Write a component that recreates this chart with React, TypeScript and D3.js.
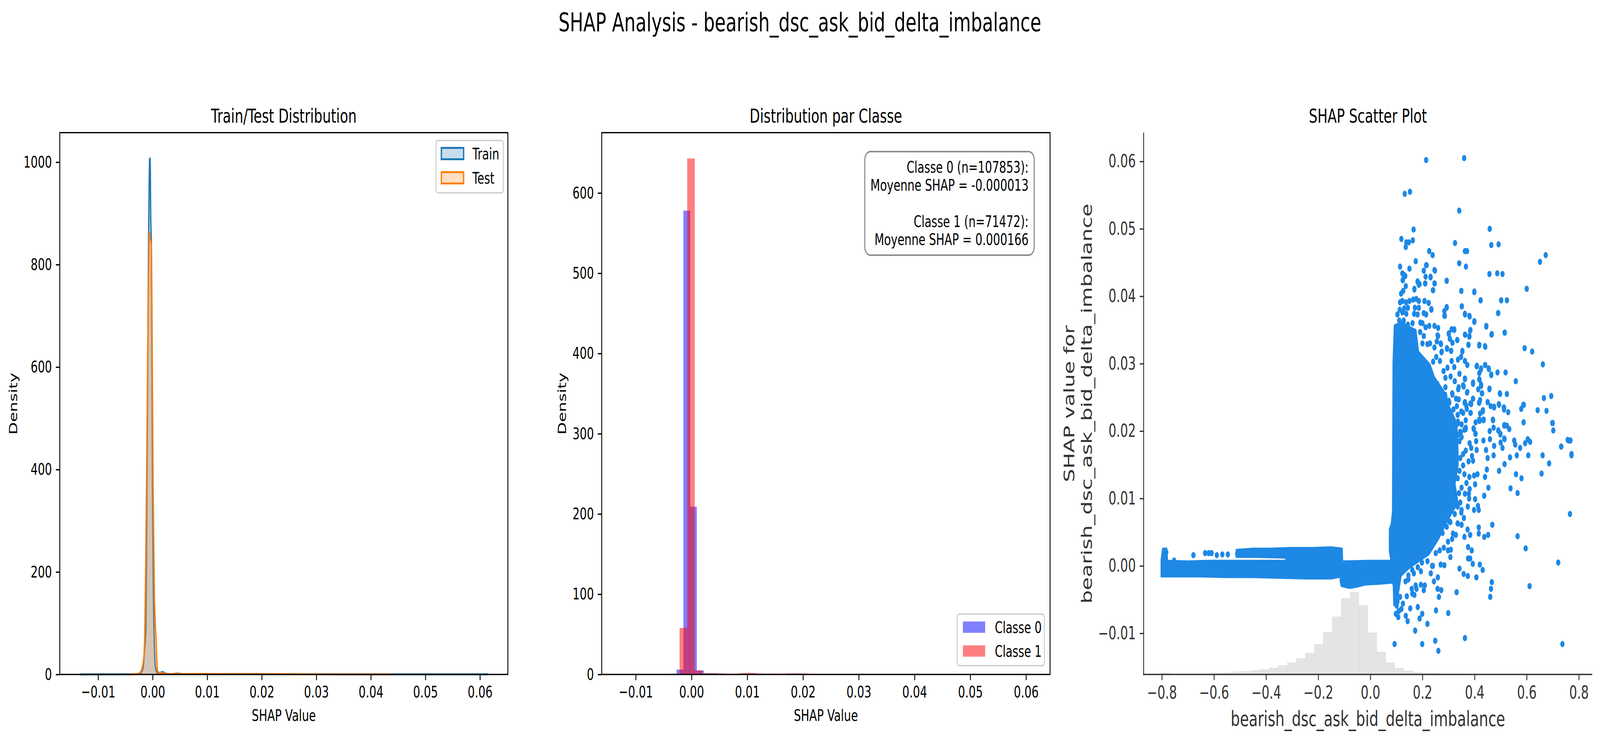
import React, { useEffect, useRef } from 'react';
import * as d3 from 'd3';

const W = 5967;
const H = 1904;
const FONT = '"DejaVu Sans", sans-serif';

// ---- Panel 1: KDE of SHAP values, [shap value, density]
const trainKde: [number, number][] = [
  [-0.0133, 0], [-0.008, 0.2], [-0.004, 0.3], [-0.0029, 0.5], [-0.0022, 3], [-0.0019, 8],
  [-0.00167, 21], [-0.00151, 47], [-0.00126, 87], [-0.0011, 299], [-0.00093, 564],
  [-0.00077, 828], [-0.00064, 961], [-0.00055, 1007], [-0.00047, 1007], [-0.00036, 894],
  [-0.00024, 835], [-0.00014, 630], [-0.00003, 365], [0.00013, 160], [0.0003, 60],
  [0.00051, 14], [0.0008, 4], [0.00103, 3], [0.0014, 3], [0.00169, 5], [0.002, 4],
  [0.0025, 1.5], [0.0035, 0.8], [0.0045, 2], [0.0055, 1], [0.007, 0.8], [0.0095, 1.2],
  [0.012, 0.8], [0.0175, 1.0], [0.022, 0.6], [0.03, 0.3], [0.04, 0.2], [0.05, 0.2], [0.0615, 0.1],
];
const testKde: [number, number][] = [
  [-0.0045, 0], [-0.0032, 0.3], [-0.00274, 1], [-0.0022, 5], [-0.00192, 14], [-0.00162, 34],
  [-0.00143, 94], [-0.00126, 233], [-0.00102, 497], [-0.00085, 696], [-0.00069, 828],
  [-0.00061, 863], [-0.00044, 851], [-0.00024, 835], [-0.00008, 630], [0.00008, 365],
  [0.0003, 167], [0.00063, 67], [0.00087, 8], [0.0012, 3], [0.0016, 3], [0.0022, 1.5],
  [0.003, 0.8], [0.0045, 1.2], [0.006, 0.8], [0.0095, 1.0], [0.013, 0.7], [0.018, 0.8],
  [0.025, 0.5], [0.035, 0.2], [0.0437, 0.1],
];

// ---- Panel 2: density histograms per class
const class0BinWidth = 0.00122;
const class0BinLeft = [-0.00511, -0.0039, -0.00268, -0.00146, -0.00027, 0.00098, 0.00216, 0.00337,
  0.00458, 0.0058, 0.00702, 0.00824, 0.00946, 0.01068, 0.0119, 0.01312, 0.01434, 0.01556,
  0.01678, 0.018, 0.01922, 0.02044, 0.02166];
const class0Density = [0.3, 0.6, 6, 578, 209, 5, 1.5, 1.2, 1.0, 0.6, 0.5, 0.7, 1.0, 0.8, 0.6,
  0.5, 0.7, 0.8, 0.8, 0.6, 0.4, 0.3, 0.2];
const class1BinWidth = 0.00136;
const class1BinLeft = [-0.0035, -0.00214, -0.000775, 0.000585, 0.00195, 0.00331, 0.00467, 0.00603,
  0.00739, 0.00875, 0.01011, 0.01147, 0.01283, 0.01419, 0.01555, 0.01691, 0.01827, 0.01963, 0.02099];
const class1Density = [0.8, 58, 643, 5, 1.2, 1.5, 1.2, 0.8, 1.0, 1.8, 2.0, 1.2, 1.0, 1.1, 0.9,
  1.3, 1.4, 1.2, 0.8];
const classLabels = ['Classe 0', 'Classe 1'];
const classNote = [
  'Classe 0 (n=107853):', 'Moyenne SHAP = -0.000013', '',
  'Classe 1 (n=71472):', 'Moyenne SHAP = 0.000166',
];

// ---- Panel 3: feature histogram (share of samples per bin, %), 50 bins over x-limits
const shapHistShare = [0, 0, 0.32, 0.12, 0.12, 0.12, 0.15, 0.2, 0.28, 0.38, 0.56, 0.64, 0.82, 0.95,
  1.25, 1.7, 2.2, 3.0, 4.0, 5.6, 7.8, 10.7, 14.1, 15.2, 12.8, 7.75, 4.2, 2.2, 1.2, 0.7, 0.42, 0.3,
  0.22, 0.16, 0.12, 0.1, 0.08, 0.06, 0.05, 0.04, 0.03, 0.03, 0.02, 0.02, 0.01, 0.01, 0.01, 0.01, 0, 0];

// dense regions of the scatter (outer outline, [feature value, shap value])
const coreRegion: [number, number][] = [
  [0.092, 0.0357], [0.12, 0.0362], [0.15, 0.0355], [0.175, 0.035], [0.185, 0.0318], [0.229, 0.0299],
  [0.246, 0.028], [0.281, 0.026], [0.298, 0.0241], [0.332, 0.0212], [0.336, 0.0175], [0.337, 0.015],
  [0.325, 0.0122], [0.336, 0.0094], [0.295, 0.0066], [0.262, 0.004], [0.225, 0.0017], [0.15, -0.0003],
  [0.118, -0.0015], [0.108, -0.004], [0.1, -0.006], [0.09, -0.0058], [0.088, -0.003], [0.083, -0.002],
  [0.08, 0.0005], [0.073, 0.0022], [0.073, 0.0055], [0.08, 0.0062], [0.085, 0.008], [0.087, 0.03],
];
const bandLeft: [number, number][] = [
  [-0.803, 0.0009], [-0.797, 0.0026], [-0.781, 0.0026], [-0.778, 0.0008], [-0.7, 0.0007],
  [-0.62, 0.0008], [-0.55, 0.0008], [-0.45, 0.0008], [-0.35, 0.0008], [-0.25, 0.0008],
  [-0.15, 0.0008], [-0.108, 0.0008], [-0.108, -0.0016], [-0.15, -0.0019], [-0.25, -0.0019],
  [-0.35, -0.0018], [-0.45, -0.0017], [-0.55, -0.0017], [-0.65, -0.0016], [-0.75, -0.0016],
  [-0.803, -0.0016],
];
const bandUpper: [number, number][] = [
  [-0.515, 0.0024], [-0.45, 0.0026], [-0.38, 0.0026], [-0.3, 0.0027], [-0.22, 0.0027],
  [-0.15, 0.0028], [-0.108, 0.0026], [-0.106, 0.0005], [-0.3, 0.0005], [-0.33, 0.0012],
  [-0.45, 0.0013], [-0.515, 0.0013],
];
const bandMid: [number, number][] = [
  [-0.114, 0.0007], [0.0, 0.0008], [0.085, 0.0008], [0.088, -0.0025], [0.03, -0.0027],
  [-0.02, -0.0028], [-0.05, -0.0031], [-0.08, -0.0033], [-0.112, -0.003], [-0.116, -0.0022],
];

// individual points outside or on the rim of the dense regions
const scatterPoints: [number, number][] = [
  [0.214, 0.0602], [0.36, 0.0605], [0.132, 0.0552], [0.152, 0.0555], [0.341, 0.0527], [0.166, 0.0499],
  [0.458, 0.05], [0.119, 0.0485], [0.138, 0.048], [0.148, 0.048], [0.163, 0.0483], [0.136, 0.0473],
  [0.325, 0.0479], [0.464, 0.0476], [0.492, 0.0477], [0.363, 0.0467], [0.371, 0.0467], [0.226, 0.0467],
  [0.239, 0.0461], [0.673, 0.0461], [0.651, 0.0451], [0.341, 0.0449], [0.367, 0.0444], [0.174, 0.0452],
  [0.114, 0.0444], [0.15, 0.0441], [0.214, 0.0446], [0.205, 0.0438], [0.248, 0.0438], [0.125, 0.0433],
  [0.134, 0.043], [0.125, 0.0424], [0.212, 0.0429], [0.231, 0.0428], [0.457, 0.0433], [0.487, 0.0434],
  [0.507, 0.0433], [0.182, 0.0421], [0.189, 0.0418], [0.211, 0.0419], [0.247, 0.0419], [0.293, 0.0423],
  [0.136, 0.0415], [0.169, 0.041], [0.241, 0.0409], [0.349, 0.0408], [0.399, 0.0406], [0.6, 0.0411],
  [0.423, 0.0394], [0.502, 0.0394], [0.524, 0.0394], [0.208, 0.0393], [0.224, 0.039], [0.351, 0.0385],
  [0.293, 0.0383], [0.234, 0.038], [0.284, 0.0371], [0.363, 0.0373], [0.381, 0.037], [0.491, 0.0375],
  [0.399, 0.0362], [0.445, 0.0355], [0.515, 0.0346], [0.465, 0.0343], [0.383, 0.0349], [0.364, 0.0343],
  [0.38, 0.034], [0.376, 0.0328], [0.418, 0.0327], [0.441, 0.0325], [0.592, 0.0323], [0.621, 0.0318],
  [0.662, 0.0299], [0.353, 0.0318], [0.273, 0.0317], [0.31, 0.0319], [0.294, 0.0322], [0.271, 0.0329],
  [0.333, 0.0335], [0.26, 0.0341], [0.301, 0.0344], [0.322, 0.035], [0.441, 0.0298], [0.455, 0.0292],
  [0.464, 0.0283], [0.488, 0.0287], [0.519, 0.0287], [0.558, 0.0274], [0.408, 0.0296], [0.424, 0.0291],
  [0.419, 0.0276], [0.425, 0.0267], [0.394, 0.027], [0.363, 0.0277], [0.371, 0.0257], [0.457, 0.0262],
  [0.429, 0.0256], [0.498, 0.0255], [0.524, 0.0255], [0.694, 0.0252], [0.666, 0.0249], [0.587, 0.0239],
  [0.579, 0.0233], [0.642, 0.0231], [0.676, 0.023], [0.394, 0.0248], [0.421, 0.0246], [0.417, 0.0242],
  [0.45, 0.0243], [0.462, 0.0237], [0.475, 0.0235], [0.494, 0.0239], [0.513, 0.0235], [0.513, 0.0232],
  [0.529, 0.0228], [0.431, 0.0229], [0.421, 0.0226], [0.434, 0.0216], [0.419, 0.0215], [0.471, 0.0216],
  [0.588, 0.0213], [0.698, 0.0212], [0.702, 0.0201], [0.514, 0.0208], [0.524, 0.0208], [0.533, 0.0203],
  [0.491, 0.0201], [0.499, 0.0195], [0.473, 0.0205], [0.458, 0.02], [0.515, 0.0188], [0.552, 0.0186],
  [0.761, 0.0186], [0.768, 0.0186], [0.613, 0.0184], [0.396, 0.0204], [0.404, 0.0196], [0.366, 0.0205],
  [0.361, 0.0202], [0.384, 0.0227], [0.368, 0.0238], [0.387, 0.024], [0.347, 0.0198], [0.335, 0.0211],
  [0.362, 0.0242], [0.337, 0.0262], [0.358, 0.0266],
  [0.732, 0.0177], [0.772, 0.0164], [0.661, 0.0164], [0.686, 0.0152], [0.657, 0.0137], [0.606, 0.0164],
  [0.594, 0.0182], [0.575, 0.0175], [0.556, 0.018], [0.562, 0.0164], [0.536, 0.0161],
  [0.515, 0.0151], [0.494, 0.0141], [0.559, 0.0136], [0.58, 0.013], [0.538, 0.0115], [0.565, 0.0108],
  [0.766, 0.0077], [0.468, 0.0061], [0.565, 0.0044], [0.596, 0.0026], [0.721, 0.0005], [0.611, -0.003],
  [0.737, -0.0116], [0.466, -0.0024], [0.463, -0.0034], [0.46, -0.0046], [0.416, 0.0057], [0.416, 0.0048],
  [0.437, 0.0043], [0.452, 0.0046], [0.407, -0.0017], [0.42, 0.0002], [0.431, -0.0006], [0.374, -0.0015],
  [0.358, -0.0012], [0.393, 0.0003], [0.375, 0.0011], [0.383, 0.0011], [0.389, 0.0023], [0.375, 0.0028],
  [0.342, -0.0004], [0.361, 0.0043], [0.383, 0.0046], [0.331, -0.0039], [0.363, -0.0107], [0.261, -0.0126],
  [0.249, -0.0111], [0.199, -0.0116], [0.093, -0.0116], [0.219, -0.0086], [0.172, -0.0096], [0.299, -0.007],
  [0.252, -0.0066], [0.199, -0.0071], [0.189, -0.0078], [0.182, -0.0061], [0.153, -0.0063], [0.143, -0.0082],
  [0.136, -0.0074], [0.107, -0.0076], [0.258, -0.0034], [0.272, -0.0036], [0.263, -0.0046], [0.244, -0.0023],
  [0.259, -0.0017], [0.232, -0.0011], [0.27, 0.0002], [0.284, 0.0001], [0.307, 0.0013], [0.298, 0.0023],
  [0.309, 0.0024], [0.237, 0.0], [0.209, -0.0029], [0.194, -0.0028], [0.174, -0.0029], [0.205, -0.0036],
  [0.167, -0.0011], [0.194, -0.0008], [0.328, 0.0046], [0.317, 0.0048], [0.307, 0.0065], [0.335, 0.0063],
  [0.35, 0.0061], [0.373, 0.0054], [0.359, 0.0071], [0.349, 0.0079], [0.374, 0.0088], [0.398, 0.0083],
  [0.416, 0.0083], [0.413, 0.0089], [0.402, 0.0099], [0.437, 0.0104], [0.379, 0.01], [0.378, 0.0107],
  [0.363, 0.0107], [0.381, 0.0114], [0.453, 0.0116], [0.402, 0.0121], [0.369, 0.0123], [0.361, 0.0136],
  [0.38, 0.0132], [0.44, 0.0132], [0.447, 0.0143], [0.411, 0.0136], [0.398, 0.0134], [0.45, 0.016],
  [0.444, 0.0172], [0.473, 0.0164], [0.475, 0.0178], [0.459, 0.0188], [0.434, 0.0186], [0.5, 0.0183],
  [0.507, 0.0175], [0.514, 0.0189], [0.491, 0.0201], [0.499, 0.0196], [0.47, 0.0217], [0.434, 0.0217],
  [0.419, 0.0217], [0.406, 0.0185], [0.408, 0.0172], [0.39, 0.0163], [0.394, 0.0156], [0.387, 0.0175],
  [0.381, 0.0182], [0.403, 0.0196], [0.397, 0.0203], [0.366, 0.0203], [0.335, 0.0212], [0.345, 0.0199],
  [0.098, -0.0039], [0.104, -0.0053], [0.101, -0.0059], [0.098, -0.0071], [0.109, -0.0067], [0.119, -0.0064],
  [0.125, -0.0056], [0.114, -0.0046], [0.14, -0.0045], [0.161, -0.0041], [0.146, -0.002], [0.159, -0.0034],
  [0.169, -0.0043], [0.177, -0.0034], [0.733, 0.0177], [0.757, 0.0187], [0.772, 0.0166], [0.7, 0.0212],
  [0.604, 0.0188], [0.589, 0.0239],
  [-0.789, 0.002], [-0.783, 0.002], [-0.753, 0.0008], [-0.679, 0.0016], [-0.634, 0.0019], [-0.62, 0.0019],
  [-0.609, 0.0019], [-0.589, 0.0016], [-0.568, 0.0017], [-0.547, 0.0017], [-0.511, 0.0018],
  // rim of the dense core, lower half
  [0.266, 0.0249], [0.287, 0.0254], [0.314, 0.0256], [0.329, 0.0248], [0.303, 0.0242], [0.319, 0.0232],
  [0.335, 0.0224], [0.356, 0.0227], [0.366, 0.0216], [0.35, 0.021], [0.335, 0.0194], [0.35, 0.0191],
  [0.342, 0.0185], [0.366, 0.0171], [0.356, 0.0166], [0.345, 0.016], [0.377, 0.0155], [0.356, 0.0149],
  [0.342, 0.0141], [0.335, 0.013], [0.35, 0.0116], [0.34, 0.0108], [0.345, 0.0094], [0.335, 0.0088],
  [0.35, 0.0083], [0.324, 0.0077], [0.335, 0.0063], [0.303, 0.0066], [0.293, 0.0058], [0.277, 0.0049],
  [0.314, 0.004], [0.298, 0.0036], [0.282, 0.0027], [0.266, 0.0023], [0.251, 0.0019], [0.24, 0.0],
  [0.219, 0.0007], [0.198, 0.0005], [0.182, -0.0002], [0.161, -0.0006], [0.146, -0.0014], [0.135, -0.0023],
  // rim of the dense core, upper half
  [0.114, 0.0391], [0.123, 0.0393], [0.137, 0.0391], [0.15, 0.0393], [0.164, 0.0395], [0.176, 0.0396],
  [0.186, 0.0393], [0.113, 0.038], [0.13, 0.0382], [0.144, 0.0383], [0.171, 0.0383], [0.186, 0.0383],
  [0.104, 0.0373], [0.123, 0.0376], [0.138, 0.0374], [0.168, 0.0374], [0.181, 0.0373], [0.111, 0.0364],
  [0.128, 0.0364], [0.101, 0.0354], [0.144, 0.0358], [0.162, 0.036], [0.192, 0.0361], [0.2, 0.036],
  [0.212, 0.0354], [0.226, 0.0356], [0.246, 0.0356], [0.26, 0.0353], [0.205, 0.0341], [0.191, 0.0347],
  [0.2, 0.033], [0.219, 0.0329], [0.229, 0.033], [0.258, 0.0342], [0.255, 0.0333], [0.27, 0.033],
  [0.246, 0.0324], [0.274, 0.0318], [0.294, 0.0323], [0.31, 0.0319], [0.301, 0.0345], [0.312, 0.0351],
  [0.322, 0.0351], [0.305, 0.0337], [0.315, 0.0331], [0.334, 0.0335], [0.253, 0.031], [0.267, 0.0304],
  [0.241, 0.0303], [0.296, 0.0294], [0.312, 0.0304], [0.336, 0.0306], [0.348, 0.031], [0.353, 0.0319],
  [0.363, 0.0304], [0.372, 0.0298], [0.322, 0.0295], [0.342, 0.0285], [0.281, 0.0289], [0.288, 0.0279],
  [0.308, 0.0281], [0.324, 0.0274], [0.363, 0.0278], [0.257, 0.027], [0.288, 0.0265], [0.339, 0.0265],
  [0.356, 0.0268], [0.372, 0.0258], [0.315, 0.0254], [0.339, 0.0247], [0.363, 0.0243], [0.384, 0.0241],
  [0.394, 0.0248], [0.37, 0.0233], [0.332, 0.0237], [0.349, 0.0229], [0.385, 0.0227], [0.418, 0.0242],
  [0.432, 0.0231], [0.418, 0.0217], [0.404, 0.0213], [0.435, 0.0217], [0.394, 0.0272], [0.414, 0.0262],
  [0.428, 0.0256], [0.425, 0.0269], [0.418, 0.0277], [0.418, 0.0286], [0.409, 0.0297], [0.425, 0.0293],
  [0.44, 0.0298], [0.454, 0.0293], [0.464, 0.0284], [0.457, 0.0263], [0.497, 0.0256], [0.45, 0.0243],
  [0.475, 0.0236], [0.493, 0.024], [0.512, 0.0235], [0.514, 0.0209], [0.288, 0.025], [0.301, 0.0245],
  [0.267, 0.0245], [0.308, 0.0225], [0.336, 0.0214], [0.208, 0.0393], [0.224, 0.039], [0.234, 0.0381],
  [0.205, 0.0375], [0.214, 0.0373], [0.284, 0.0378], [0.293, 0.0384], [0.286, 0.0371], [0.351, 0.0385],
  [0.363, 0.0374], [0.38, 0.0371], [0.399, 0.0363], [0.445, 0.0356], [0.466, 0.0344], [0.516, 0.0346],
  [0.384, 0.035], [0.363, 0.0343], [0.38, 0.0341], [0.377, 0.0328], [0.418, 0.0328], [0.44, 0.0326],
  [0.49, 0.0375], [0.502, 0.0394], [0.423, 0.0394], [0.399, 0.0407], [0.349, 0.0408], [0.293, 0.0423],
  [0.24, 0.0409], [0.246, 0.0419], [0.21, 0.0419], [0.231, 0.0429], [0.246, 0.0439], [0.216, 0.0446],
  [0.123, 0.0434], [0.132, 0.0431], [0.124, 0.0424], [0.126, 0.0408], [0.118, 0.0404], [0.181, 0.0422],
  [0.186, 0.0417], [0.169, 0.0411],
];

const kdeXTicks = [-0.01, 0, 0.01, 0.02, 0.03, 0.04, 0.05, 0.06];
const kdeYTicks = [0, 200, 400, 600, 800, 1000];
const classYTicks = [0, 100, 200, 300, 400, 500, 600];
const shapXTicks = [-0.8, -0.6, -0.4, -0.2, 0, 0.2, 0.4, 0.6, 0.8];
const shapYTicks = [-0.01, 0, 0.01, 0.02, 0.03, 0.04, 0.05, 0.06];

const TRAIN = '#1f77b4';
const TEST = '#ff7f0e';
const DOT = '#1E88E5';

export default function App() {
  const svgRef = useRef<SVGSVGElement>(null);

  useEffect(() => {
    document.body.style.margin = '0';
    document.body.style.overflow = 'hidden';
    if (!svgRef.current) return;
    const svg = d3.select(svgRef.current);
    svg.selectAll('*').remove();
    svg.append('rect').attr('width', W).attr('height', H).attr('fill', '#fff');

    const top = 339.5, bottom = 1726;
    const tick = 14.6, lw = 3.33;

    const styleAxis = (g: any, color: string, size: number) => {
      g.select('.domain').remove();
      g.attr('font-family', FONT).attr('font-size', size);
      g.selectAll('line').attr('stroke', color).attr('stroke-width', lw);
      g.selectAll('text').attr('fill', color);
    };
    const text = (x: number, y: number, s: string, size: number, opts: any = {}) => {
      const t = svg.append('text').attr('x', x).attr('y', y).attr('text-anchor', opts.anchor || 'middle')
        .attr('font-family', FONT).attr('font-size', size).attr('fill', opts.color || '#000').text(s);
      if (opts.rotate) t.attr('x', 0).attr('y', 0).attr('transform', `translate(${x},${y}) rotate(-90)`);
      return t;
    };

    text(2983, 80, 'SHAP Analysis - bearish_dsc_ask_bid_delta_imbalance', 66.7);

    // ---------- Panel 1: Train/Test KDE
    const x1 = d3.scaleLinear().domain([-0.01703, 0.065113]).range([223, 1894]);
    const y1 = d3.scaleLinear().domain([0, 1057.6]).range([bottom, top]);
    const kdeArea = d3.area<[number, number]>().x(d => x1(d[0])).y0(y1(0)).y1(d => y1(d[1])).curve(d3.curveMonotoneX);
    const kdeLine = d3.line<[number, number]>().x(d => x1(d[0])).y(d => y1(d[1])).curve(d3.curveMonotoneX);
    [[trainKde, TRAIN], [testKde, TEST]].forEach(([data, c]: any) => {
      svg.append('path').datum(data).attr('d', kdeArea).attr('fill', c).attr('fill-opacity', 0.25);
      svg.append('path').datum(data).attr('d', kdeLine).attr('fill', 'none').attr('stroke', c)
        .attr('stroke-width', 5).attr('stroke-linejoin', 'round');
    });
    const ax1 = svg.append('g').attr('transform', `translate(0,${bottom})`)
      .call(d3.axisBottom(x1).tickValues(kdeXTicks).tickSize(tick).tickPadding(tick).tickFormat(d3.format('.2f')));
    styleAxis(ax1, '#000', 41.67);
    const ay1 = svg.append('g').attr('transform', 'translate(223,0)')
      .call(d3.axisLeft(y1).tickValues(kdeYTicks).tickSize(tick).tickPadding(tick).tickFormat(d3.format('d')));
    styleAxis(ay1, '#000', 41.67);
    svg.append('rect').attr('x', 223).attr('y', top).attr('width', 1894 - 223).attr('height', bottom - top)
      .attr('fill', 'none').attr('stroke', '#000').attr('stroke-width', lw);
    text(1058.5, 314.5, 'Train/Test Distribution', 50);
    text(1058.5, 1845, 'SHAP Value', 41.67);
    text(64.5, 1033, 'Density', 41.67, { rotate: true });
    // legend
    svg.append('rect').attr('x', 1626).attr('y', 359.5).attr('width', 251).attr('height', 134).attr('rx', 8)
      .attr('fill', '#fff').attr('fill-opacity', 0.8).attr('stroke', '#cccccc').attr('stroke-width', 3.5);
    [['Train', TRAIN, 393], ['Test', TEST, 455]].forEach(([lab, c, cy]: any) => {
      svg.append('rect').attr('x', 1646).attr('y', cy - 14.5).attr('width', 83).attr('height', 29)
        .attr('fill', c).attr('fill-opacity', 0.25).attr('stroke', c).attr('stroke-width', 5);
      text(1762, cy + 15, lab, 41.67, { anchor: 'start' });
    });

    // ---------- Panel 2: class histograms
    const x2 = d3.scaleLinear().domain([-0.016108, 0.064304]).range([2244, 3916]);
    const y2 = d3.scaleLinear().domain([0, 675.2]).range([bottom, top]);
    const drawHist = (lefts: number[], dens: number[], w: number, color: string) => {
      svg.append('g').selectAll('rect').data(lefts).join('rect')
        .attr('x', d => x2(d)).attr('width', d => x2(d + w) - x2(d))
        .attr('y', (_, i) => y2(dens[i])).attr('height', (_, i) => y2(0) - y2(dens[i]))
        .attr('fill', color).attr('fill-opacity', 0.5);
    };
    drawHist(class0BinLeft, class0Density, class0BinWidth, '#0000ff');
    drawHist(class1BinLeft, class1Density, class1BinWidth, '#ff0000');
    const ax2 = svg.append('g').attr('transform', `translate(0,${bottom})`)
      .call(d3.axisBottom(x2).tickValues(kdeXTicks).tickSize(tick).tickPadding(tick).tickFormat(d3.format('.2f')));
    styleAxis(ax2, '#000', 41.67);
    const ay2 = svg.append('g').attr('transform', 'translate(2244,0)')
      .call(d3.axisLeft(y2).tickValues(classYTicks).tickSize(tick).tickPadding(tick).tickFormat(d3.format('d')));
    styleAxis(ay2, '#000', 41.67);
    svg.append('rect').attr('x', 2244).attr('y', top).attr('width', 3916 - 2244).attr('height', bottom - top)
      .attr('fill', 'none').attr('stroke', '#000').attr('stroke-width', lw);
    text(3080, 314.5, 'Distribution par Classe', 50);
    text(3080, 1845, 'SHAP Value', 41.67);
    text(2111, 1033, 'Density', 41.67, { rotate: true });
    // stats box
    svg.append('rect').attr('x', 3225).attr('y', 388).attr('width', 632).attr('height', 265).attr('rx', 21)
      .attr('fill', '#fff').attr('fill-opacity', 0.8).attr('stroke', '#8c8c8c').attr('stroke-width', 4);
    classNote.forEach((s, i) => { if (s) text(3836, 442 + i * 46.2, s, 41.67, { anchor: 'end' }); });
    // legend
    svg.append('rect').attr('x', 3570).attr('y', 1571.5).attr('width', 325).attr('height', 132).attr('rx', 8)
      .attr('fill', '#fff').attr('fill-opacity', 0.8).attr('stroke', '#cccccc').attr('stroke-width', 3.5);
    classLabels.forEach((lab, i) => {
      const cy = 1605 + i * 61;
      svg.append('rect').attr('x', 3591).attr('y', cy - 14.5).attr('width', 83).attr('height', 29)
        .attr('fill', i === 0 ? '#0000ff' : '#ff0000').attr('fill-opacity', 0.5);
      text(3710, cy + 15, lab, 41.67, { anchor: 'start' });
    });

    // ---------- Panel 3: SHAP scatter
    const x3 = d3.scaleLinear().domain([-0.87, 0.8514]).range([4265, 5938]);
    const y3 = d3.scaleLinear().domain([-0.0161, 0.06427]).range([bottom, top]);
    const yh = d3.scaleLinear().domain([0, 100]).range([bottom, top]);
    const [xl0, xl1] = x3.domain();
    const step = (xl1 - xl0) / shapHistShare.length;
    svg.append('g').selectAll('rect').data(shapHistShare).join('rect')
      .attr('x', (_, i) => x3(xl0 + i * step)).attr('width', x3(xl0 + step) - x3(xl0) + 0.5)
      .attr('y', d => yh(d)).attr('height', d => yh(0) - yh(d))
      .attr('fill', '#000').attr('fill-opacity', 0.105);

    const poly = d3.line<[number, number]>().x(d => x3(d[0])).y(d => y3(d[1])).curve(d3.curveLinearClosed);
    [bandLeft, bandUpper, bandMid, coreRegion].forEach(r => {
      svg.append('path').datum(r).attr('d', poly).attr('fill', DOT).attr('stroke', DOT)
        .attr('stroke-width', 4).attr('stroke-linejoin', 'round');
    });
    svg.append('g').selectAll('circle').data(scatterPoints).join('circle')
      .attr('cx', d => x3(d[0])).attr('cy', d => y3(d[1])).attr('r', 8).attr('fill', DOT);

    const ax3 = svg.append('g').attr('transform', `translate(0,${bottom})`)
      .call(d3.axisBottom(x3).tickValues(shapXTicks).tickSize(tick).tickPadding(tick).tickFormat(d3.format('.1f')));
    styleAxis(ax3, '#333333', 45.8);
    const ay3 = svg.append('g').attr('transform', 'translate(4265,0)')
      .call(d3.axisLeft(y3).tickValues(shapYTicks).tickSize(tick).tickPadding(tick).tickFormat(d3.format('.2f')));
    styleAxis(ay3, '#333333', 45.8);
    svg.append('line').attr('x1', 4265).attr('x2', 4265).attr('y1', top).attr('y2', bottom + lw / 2)
      .attr('stroke', '#333333').attr('stroke-width', lw);
    svg.append('line').attr('x1', 4265 - lw / 2).attr('x2', 5938).attr('y1', bottom).attr('y2', bottom)
      .attr('stroke', '#333333').attr('stroke-width', lw);
    text(5101.5, 314.5, 'SHAP Scatter Plot', 50);
    text(5101.5, 1858, 'bearish_dsc_ask_bid_delta_imbalance', 54.2, { color: '#333333' });
    text(4006.5, 1033, 'SHAP value for', 54.2, { rotate: true, color: '#333333' });
    text(4072, 1033, 'bearish_dsc_ask_bid_delta_imbalance', 54.2, { rotate: true, color: '#333333' });
  }, []);

  // the figure fills the whole window, mapped onto the 5967 x 1904 frame
  return (
    <svg ref={svgRef} viewBox={`0 0 ${W} ${H}`} preserveAspectRatio="none"
      style={{ position: 'absolute', left: 0, top: 0, width: '100vw', height: '100vh', display: 'block' }} />
  );
}
